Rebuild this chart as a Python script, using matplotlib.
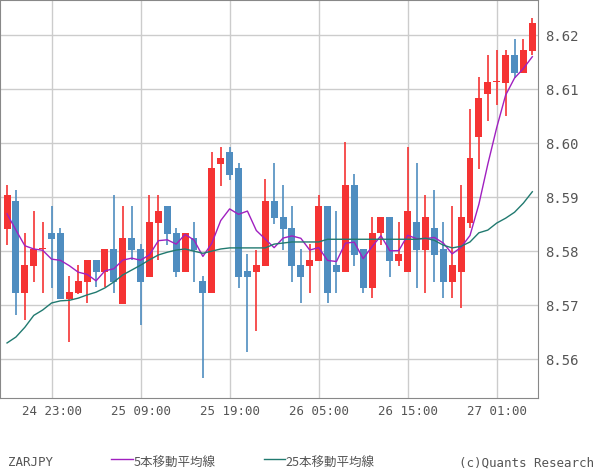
import numpy as np
import pandas as pd
import matplotlib
matplotlib.use("Agg")
import matplotlib.pyplot as plt

# hourly ZARJPY candles (open, high, low, close)
opens = [8.5841, 8.5893, 8.5722, 8.5772, 8.5804, 8.5833, 8.5833, 8.5711, 8.5722, 8.5743,
         8.5784, 8.5762, 8.5804, 8.5702, 8.5824, 8.5804, 8.5752, 8.5852, 8.5884, 8.5833,
         8.5762, 8.5824, 8.5744, 8.5722, 8.5961, 8.5984, 8.5954, 8.5763, 8.5762, 8.5772,
         8.5893, 8.5863, 8.5843, 8.5774, 8.5772, 8.5782, 8.5884, 8.5774, 8.5762, 8.5922,
         8.5804, 8.5732, 8.5833, 8.5863, 8.5782, 8.5762, 8.5854, 8.5802, 8.5843, 8.5804,
         8.5743, 8.5762, 8.5852, 8.6011, 8.6091, 8.6113, 8.6111, 8.6163, 8.6130, 8.6170]
highs = [8.5922, 8.5913, 8.5833, 8.5874, 8.5854, 8.5884, 8.5843, 8.5754, 8.5774, 8.5784,
         8.5784, 8.5804, 8.5904, 8.5884, 8.5884, 8.5813, 8.5904, 8.5904, 8.5884, 8.5843,
         8.5833, 8.5854, 8.5754, 8.5984, 8.5993, 8.5993, 8.5963, 8.5795, 8.5802, 8.5934,
         8.5963, 8.5922, 8.5884, 8.5804, 8.5813, 8.5904, 8.5884, 8.5874, 8.6002, 8.5943,
         8.5804, 8.5863, 8.5863, 8.5863, 8.5854, 8.5993, 8.5963, 8.5904, 8.5913, 8.5854,
         8.5884, 8.5922, 8.6063, 8.6122, 8.6163, 8.6172, 8.6172, 8.6193, 8.6193, 8.6231]
lows = [8.5811, 8.5681, 8.5672, 8.5743, 8.5722, 8.5732, 8.5711, 8.5632, 8.5720, 8.5704,
        8.5734, 8.5733, 8.5722, 8.5702, 8.5784, 8.5663, 8.5752, 8.5784, 8.5811, 8.5752,
        8.5762, 8.5743, 8.5565, 8.5722, 8.5921, 8.5932, 8.5732, 8.5613, 8.5652, 8.5772,
        8.5850, 8.5802, 8.5743, 8.5704, 8.5722, 8.5782, 8.5704, 8.5722, 8.5762, 8.5772,
        8.5722, 8.5713, 8.5811, 8.5752, 8.5772, 8.5762, 8.5732, 8.5722, 8.5743, 8.5713,
        8.5713, 8.5695, 8.5843, 8.5952, 8.6041, 8.6071, 8.6050, 8.6120, 8.6130, 8.6163]
closes = [8.5904, 8.5722, 8.5774, 8.5804, 8.5804, 8.5822, 8.5711, 8.5724, 8.5744, 8.5784,
          8.5762, 8.5804, 8.5743, 8.5824, 8.5802, 8.5743, 8.5854, 8.5874, 8.5832, 8.5762,
          8.5833, 8.5802, 8.5722, 8.5954, 8.5972, 8.5941, 8.5752, 8.5752, 8.5774, 8.5893,
          8.5861, 8.5841, 8.5772, 8.5752, 8.5784, 8.5884, 8.5722, 8.5762, 8.5922, 8.5793,
          8.5732, 8.5833, 8.5863, 8.5782, 8.5795, 8.5874, 8.5802, 8.5863, 8.5793, 8.5743,
          8.5774, 8.5863, 8.5972, 8.6083, 8.6113, 8.6113, 8.6163, 8.6130, 8.6172, 8.6222]

# first 5-period MA values depend on earlier bars
ma5_start = [8.5869, 8.5839, 8.5810, 8.5804]
# 25-period MA
ma25 = [8.5630, 8.5641, 8.5659, 8.5681, 8.5691, 8.5704, 8.5708, 8.5709, 8.5713, 8.5719,
        8.5724, 8.5732, 8.5743, 8.5756, 8.5765, 8.5774, 8.5784, 8.5793, 8.5798, 8.5802,
        8.5804, 8.5800, 8.5796, 8.5800, 8.5804, 8.5806, 8.5806, 8.5806, 8.5806, 8.5806,
        8.5813, 8.5815, 8.5817, 8.5817, 8.5817, 8.5817, 8.5822, 8.5822, 8.5822, 8.5822,
        8.5822, 8.5822, 8.5822, 8.5822, 8.5822, 8.5822, 8.5822, 8.5824, 8.5820, 8.5811,
        8.5806, 8.5809, 8.5817, 8.5834, 8.5839, 8.5852, 8.5861, 8.5872, 8.5889, 8.5910]

xtick_pos = [5, 15, 25, 35, 45, 55]
xtick_labels = ["24 23:00", "25 09:00", "25 19:00", "26 05:00", "26 15:00", "27 01:00"]
yticks = [8.56, 8.57, 8.58, 8.59, 8.60, 8.61, 8.62]

ma5 = pd.Series(closes).rolling(5).mean().to_numpy()
ma5[:4] = ma5_start

up_col = "#f53333"
down_col = "#4f8dc0"
grid_col = "#cccccc"
text_col = "#555555"

fig = plt.figure(figsize=(6, 4.75), dpi=100)
ax = fig.add_axes([0.0, 0.162, 0.897, 0.838])

x = np.arange(len(closes))
for i in x:
    o, h, l, c = opens[i], highs[i], lows[i], closes[i]
    col = up_col if c >= o else down_col
    ax.vlines(i, l, h, color=col, lw=1.2, zorder=2)
    bottom = min(o, c)
    height = max(abs(c - o), 0.00012)
    ax.bar(i, height, bottom=bottom, width=0.78, color=col, zorder=3, linewidth=0)

ax.plot(x, ma5, color="#a020c0", lw=1, zorder=4)
ax.plot(x, ma25, color="#217a70", lw=1, zorder=4)

ax.set_xlim(-0.79, 59.66)
ax.set_ylim(8.5528, 8.6265)
ax.set_xticks(xtick_pos)
ax.set_xticklabels(xtick_labels, family="DejaVu Sans Mono", fontsize=9, color=text_col)
ax.set_yticks(yticks)
ax.set_yticklabels([f"{v:.2f}" for v in yticks], family="DejaVu Sans Mono", fontsize=10, color=text_col)
ax.yaxis.tick_right()
ax.tick_params(length=0, pad=5)
ax.grid(True, color=grid_col, lw=1, zorder=0)
ax.set_axisbelow(True)
for s in ax.spines.values():
    s.set_color("#888888")

# footer legend
jp = ["Noto Sans CJK JP", "DejaVu Sans"]
fig.text(0.013, 0.018, "ZARJPY", family="DejaVu Sans Mono", fontsize=9, color=text_col)
fig.add_artist(plt.Line2D([0.185, 0.222], [0.033, 0.033], color="#a020c0", lw=1))
fig.text(0.222, 0.018, "5本移動平均線", family=jp, fontsize=9, color=text_col)
fig.add_artist(plt.Line2D([0.44, 0.475], [0.033, 0.033], color="#217a70", lw=1))
fig.text(0.475, 0.018, "25本移動平均線", family=jp, fontsize=9, color=text_col)
fig.text(0.99, 0.018, "(c)Quants Research", family="DejaVu Sans Mono", fontsize=9,
         color=text_col, ha="right")

fig.savefig("out.png", dpi=100)
plt.close(fig)
